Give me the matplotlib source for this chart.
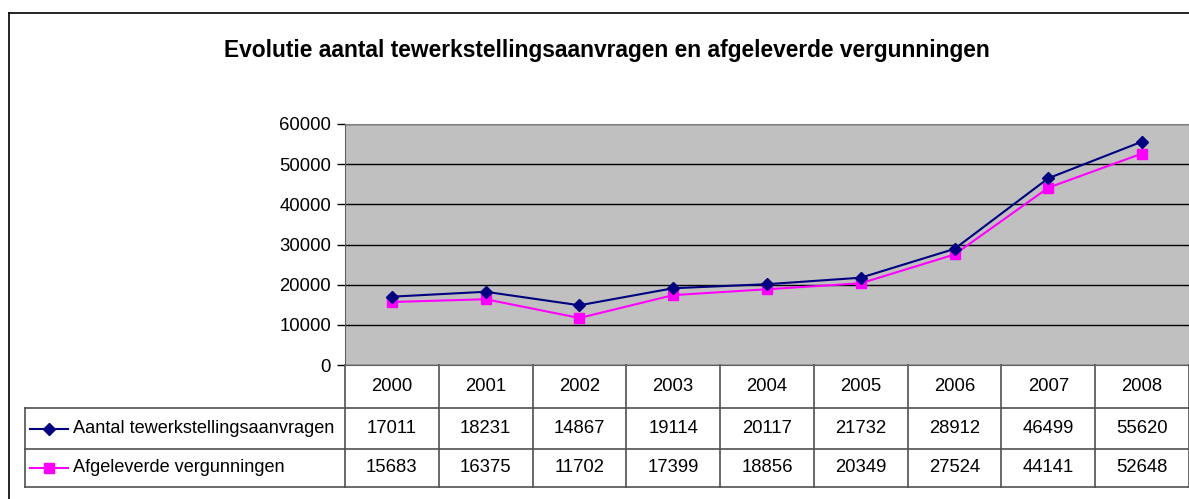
import numpy as np
import matplotlib.pyplot as plt
from matplotlib.transforms import blended_transform_factory

years = ["2000", "2001", "2002", "2003", "2004", "2005", "2006", "2007", "2008"]
aanvragen = [17011, 18231, 14867, 19114, 20117, 21732, 28912, 46499, 55620]
vergunningen = [15683, 16375, 11702, 17399, 18856, 20349, 27524, 44141, 52648]
series_names = ["Aantal tewerkstellingsaanvragen", "Afgeleverde vergunningen"]
title = "Evolutie aantal tewerkstellingsaanvragen en afgeleverde vergunningen"

plt.rcParams['font.family'] = ['Liberation Sans', 'DejaVu Sans']

W, H = 1189, 499
fig = plt.figure(figsize=(W / 100, H / 100), dpi=100)

def fx(px):
    return px / W

def fy(py):
    return 1 - py / H

# outer chart frame (cropped on right/bottom)
fig.add_artist(plt.Line2D([fx(9), fx(9)], [fy(13), 0], color="black", lw=1.2))
fig.add_artist(plt.Line2D([fx(9), 1], [fy(13), fy(13)], color="black", lw=1.2))

fig.text(fx(607), fy(50), title, ha="center", va="center", fontsize=16.4, fontweight="bold")

ax = fig.add_axes([fx(345), fy(365), 1 - fx(345), fy(124) - fy(365)])
ax.set_facecolor("#C0C0C0")
x = np.arange(len(years))
ax.plot(x, aanvragen, color="#000080", lw=1.5, marker="D", markersize=6, zorder=5)
ax.plot(x, vergunningen, color="#FF00FF", lw=1.5, marker="s", markersize=7, zorder=4)
ax.set_xlim(-0.5, len(years) - 0.5)
ax.set_ylim(0, 60000)
ax.set_yticks(np.arange(0, 60001, 10000))
ax.yaxis.grid(True, color="black", lw=1)
ax.set_axisbelow(True)
ax.set_xticks([])
ax.tick_params(axis="y", length=6, width=1, labelsize=13.3, pad=4)
for s in ["top", "right"]:
    ax.spines[s].set_color("#808080")
ax.spines["left"].set_color("#606060")
ax.spines["bottom"].set_color("#606060")

# data table below the plot
tr = blended_transform_factory(ax.transData, fig.transFigure)
lc = "#505050"
y_top, y_head, y_mid, y_bot = 365, 408, 449, 487
for i in range(len(years) + 1):
    xb = i - 0.5
    ax.add_line(plt.Line2D([xb, xb], [fy(y_top), fy(y_bot)], transform=tr, color=lc, lw=1.2, clip_on=False))
for yy in [y_head, y_mid, y_bot]:
    fig.add_artist(plt.Line2D([fx(25), 1], [fy(yy), fy(yy)], color=lc, lw=1.2))
fig.add_artist(plt.Line2D([fx(25), fx(25)], [fy(y_head), fy(y_bot)], color=lc, lw=1.2))

fs = 13.3
for i, yr in enumerate(years):
    ax.text(i, fy((y_top + y_head) / 2), yr, transform=tr, ha="center", va="center", fontsize=fs)
    ax.text(i, fy((y_head + y_mid) / 2), str(aanvragen[i]), transform=tr, ha="center", va="center", fontsize=fs)
    ax.text(i, fy((y_mid + y_bot) / 2), str(vergunningen[i]), transform=tr, ha="center", va="center", fontsize=fs)

# legend keys in the table
for row_y, name, col, mk, ms in [((y_head + y_mid) / 2, series_names[0], "#000080", "D", 6),
                                 ((y_mid + y_bot) / 2, series_names[1], "#FF00FF", "s", 7)]:
    fig.add_artist(plt.Line2D([fx(30), fx(68)], [fy(row_y), fy(row_y)], color=col, lw=1.5))
    fig.add_artist(plt.Line2D([fx(49)], [fy(row_y)], color=col, marker=mk, markersize=ms, lw=0))
    fig.text(fx(73), fy(row_y), name, ha="left", va="center", fontsize=13.1)

fig.savefig("out.png", dpi=100)
